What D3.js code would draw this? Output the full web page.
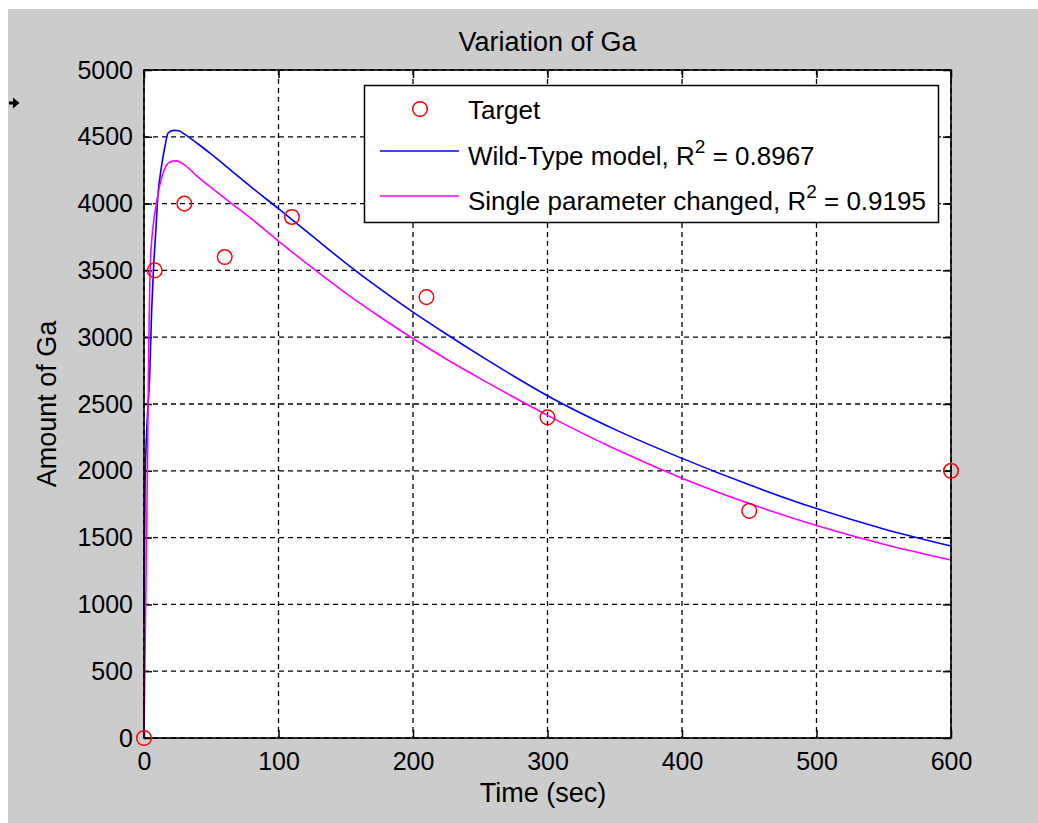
<!DOCTYPE html>
<html><head><meta charset="utf-8">
<script src="https://cdn.jsdelivr.net/npm/d3@7"></script>
<style>body{margin:0;background:#fff}svg{display:block}</style>
</head><body>
<svg id="c" width="1038" height="823"></svg>
<script>
// ---- data ----
const targetTime  = [0, 8, 30, 60, 110, 210, 300, 450, 600];
const targetValue = [0, 3500, 4000, 3600, 3900, 3300, 2400, 1700, 2000];

const wildTime  = [0, 0.8, 2.5, 4.2, 5.7, 7, 8.8, 10.4, 12.6, 15.4, 18, 22, 26, 30, 40, 50, 64, 80, 100, 125, 150, 175, 200, 225, 250, 275, 300, 350, 400, 450, 500, 550, 600];
const wildValue = [880, 1900, 2400, 2700, 3200, 3500, 3800, 4070, 4250, 4420, 4530, 4548, 4545, 4520, 4448, 4370, 4255, 4122, 3962, 3758, 3555, 3365, 3188, 3022, 2862, 2708, 2562, 2310, 2093, 1895, 1717, 1565, 1437];

const singleTime  = [0, 1.5, 2.5, 3.5, 4.5, 7, 9.2, 12, 15, 19, 24, 30, 40, 50, 64, 80, 100, 125, 150, 175, 200, 225, 250, 275, 300, 350, 400, 450, 500, 550, 600];
const singleValue = [0, 1200, 2000, 2900, 3500, 3850, 4000, 4150, 4250, 4310, 4320, 4290, 4200, 4120, 4010, 3885, 3720, 3520, 3330, 3155, 2990, 2835, 2690, 2550, 2415, 2165, 1945, 1755, 1590, 1450, 1332];

const xTickValues = [0, 100, 200, 300, 400, 500, 600];
const yTickValues = [0, 500, 1000, 1500, 2000, 2500, 3000, 3500, 4000, 4500, 5000];

const titleText = "Variation of Ga";
const xLabelText = "Time (sec)";
const yLabelText = "Amount of Ga";
const legendNames = ["Target", "Wild-Type model, R", "Single parameter changed, R"];
const legendR2 = ["", "0.8967", "0.9195"];

// ---- layout ----
const W = 1038, H = 823;
const L = 144, R = 951, T = 70, B = 738;
const FONT = "'Liberation Sans', Arial, sans-serif";
const FS = 25, FS_LBL = 27, FS_LEG = 26;

const svg = d3.select("#c");
svg.append("rect").attr("width", W).attr("height", H).attr("fill", "#fff");
svg.append("rect").attr("x", 8).attr("y", 9).attr("width", W - 8).attr("height", H - 9).attr("fill", "#cccccc");

// little cursor arrow artifact
svg.append("path").attr("d", "M9,101.5 L14,101.5 L14,104.5 L9,104.5 Z M13,97.5 L19.5,103 L13,108.5 Z").attr("fill", "#000");

const x = d3.scaleLinear().domain([0, 600]).range([L, R]);
const y = d3.scaleLinear().domain([0, 5000]).range([B, T]);

svg.append("rect").attr("x", L).attr("y", T).attr("width", R - L).attr("height", B - T).attr("fill", "#fff");

// grid
const grid = svg.append("g").attr("stroke", "#000").attr("stroke-width", 1.3).attr("stroke-dasharray", "5,4");
grid.selectAll(".gx").data(xTickValues).join("line")
  .attr("x1", d => x(d)).attr("x2", d => x(d)).attr("y1", T).attr("y2", B);
grid.selectAll(".gy").data(yTickValues).join("line")
  .attr("y1", d => y(d)).attr("y2", d => y(d)).attr("x1", L).attr("x2", R);

// axes with inward ticks
const tickLen = 8;
const axB = svg.append("g").attr("transform", `translate(0,${B})`)
  .call(d3.axisBottom(x).tickValues(xTickValues).tickSize(-tickLen).tickPadding(14).tickFormat(d3.format("d")));
const axT = svg.append("g").attr("transform", `translate(0,${T})`)
  .call(d3.axisTop(x).tickValues(xTickValues).tickSize(-tickLen).tickFormat(""));
const axL = svg.append("g").attr("transform", `translate(${L},0)`)
  .call(d3.axisLeft(y).tickValues(yTickValues).tickSize(-tickLen).tickPadding(11).tickFormat(d3.format("d")));
const axR = svg.append("g").attr("transform", `translate(${R},0)`)
  .call(d3.axisRight(y).tickValues(yTickValues).tickSize(-tickLen).tickFormat(""));
[axB, axT, axL, axR].forEach(a => {
  a.select(".domain").remove();
  a.selectAll(".tick line").attr("stroke", "#000").attr("stroke-width", 1.5);
  a.selectAll("text").attr("font-family", FONT).attr("font-size", FS).attr("fill", "#000");
});
axB.selectAll("text").attr("dy", "0.71em");

// data lines
svg.append("clipPath").attr("id", "clp").append("rect")
  .attr("x", L - 1).attr("y", T).attr("width", R - L + 2).attr("height", B - T);
const line = d3.line().x(d => x(d[0])).y(d => y(d[1])).curve(d3.curveMonotoneX);
svg.append("path").datum(d3.zip(wildTime, wildValue)).attr("d", line)
  .attr("fill", "none").attr("stroke", "#0000ff").attr("stroke-width", 1.6).attr("clip-path", "url(#clp)");
svg.append("path").datum(d3.zip(singleTime, singleValue)).attr("d", line)
  .attr("fill", "none").attr("stroke", "#ff00ff").attr("stroke-width", 1.6).attr("clip-path", "url(#clp)");

// box
svg.append("rect").attr("x", L).attr("y", T).attr("width", R - L).attr("height", B - T)
  .attr("fill", "none").attr("stroke", "#000").attr("stroke-width", 1.6);

// target markers
svg.selectAll(".tg").data(d3.zip(targetTime, targetValue)).join("circle")
  .attr("cx", d => x(d[0])).attr("cy", d => y(d[1])).attr("r", 7.3)
  .attr("fill", "none").attr("stroke", "#ff0000").attr("stroke-width", 1.5);

// title & labels
svg.append("text").attr("x", (L + R) / 2).attr("y", 51).attr("text-anchor", "middle")
  .attr("font-family", FONT).attr("font-size", FS_LBL).text(titleText);
svg.append("text").attr("x", 543).attr("y", 802).attr("text-anchor", "middle")
  .attr("font-family", FONT).attr("font-size", FS_LBL).text(xLabelText);
svg.append("text").attr("transform", `translate(56,${(T + B) / 2}) rotate(-90)`).attr("text-anchor", "middle")
  .attr("font-family", FONT).attr("font-size", FS_LBL).text(yLabelText);

// legend
const lg = svg.append("g");
lg.append("rect").attr("x", 364.5).attr("y", 85.5).attr("width", 574).attr("height", 137)
  .attr("fill", "#fff").attr("stroke", "#000").attr("stroke-width", 1.5);
const rowY = [109, 151, 196];
const baseY = [119, 164.5, 210];
lg.append("circle").attr("cx", 420).attr("cy", rowY[0]).attr("r", 7.3)
  .attr("fill", "none").attr("stroke", "#ff0000").attr("stroke-width", 1.5);
lg.append("line").attr("x1", 380).attr("x2", 459).attr("y1", rowY[1]).attr("y2", rowY[1])
  .attr("stroke", "#0000ff").attr("stroke-width", 1.6);
lg.append("line").attr("x1", 380).attr("x2", 459).attr("y1", rowY[2]).attr("y2", rowY[2])
  .attr("stroke", "#ff00ff").attr("stroke-width", 1.6);
legendNames.forEach((name, i) => {
  const t = lg.append("text").attr("x", 468).attr("y", baseY[i])
    .attr("font-family", FONT).attr("font-size", FS_LEG).attr("fill", "#000");
  t.append("tspan").text(name);
  if (legendR2[i]) {
    t.append("tspan").attr("font-size", 19).attr("dy", -12).text("2");
    t.append("tspan").attr("dy", 12).text(" = " + legendR2[i]);
  }
});
</script>
</body></html>
